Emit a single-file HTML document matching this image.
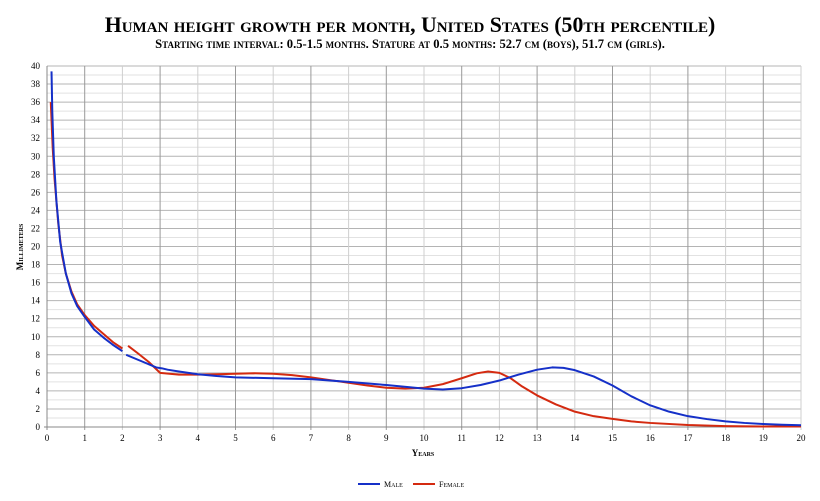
<!DOCTYPE html>
<html><head><meta charset="utf-8"><style>
body{margin:0;background:#fff;}
svg{display:block;font-family:"Liberation Serif",serif;}
</style></head><body>
<svg width="820" height="501" viewBox="0 0 820 501">
<rect width="820" height="501" fill="#fff"/>
<text x="410" y="32" text-anchor="middle" font-size="21.8" font-weight="bold" style="font-variant:small-caps">Human height growth per month, United States (50th percentile)</text>
<text x="410" y="48" text-anchor="middle" font-size="12.6" font-weight="bold" style="font-variant:small-caps">Starting time interval: 0.5-1.5 months. Stature at 0.5 months: 52.7 cm (boys), 51.7 cm (girls).</text>
<g id="grid"></g>
<g transform="translate(47,427) scale(37.7,-9.025)" fill="none" stroke-width="2" stroke-linejoin="round">
<polyline vector-effect="non-scaling-stroke" stroke="#d42a10" points="0.1,36 0.15,31 0.2,27.5 0.3,22.5 0.4,19 0.5,17 0.65,15 0.8,13.6 1,12.4 1.25,11.2 1.5,10.3 1.75,9.4 2,8.7"/>
<polyline vector-effect="non-scaling-stroke" stroke="#d42a10" points="2.15,9 2.4,8.2 2.7,7.2 3,6 3.5,5.8 4,5.8 4.5,5.85 5,5.9 5.5,5.95 6,5.9 6.5,5.75 7,5.5 7.5,5.2 8,4.9 8.5,4.6 9,4.35 9.5,4.25 10,4.35 10.5,4.75 11,5.4 11.4,5.95 11.7,6.15 12,6 12.3,5.4 12.6,4.5 13,3.5 13.5,2.5 14,1.7 14.5,1.2 15,0.9 15.5,0.62 16,0.45 17,0.22 18,0.1 19,0.06 20,0.05"/>
<polyline vector-effect="non-scaling-stroke" stroke="#1530c8" points="0.12,39.4 0.14,35 0.18,30 0.25,25 0.35,20.5 0.5,17 0.65,14.8 0.8,13.4 1,12.2 1.25,10.8 1.5,9.9 1.75,9.1 2,8.4"/>
<polyline vector-effect="non-scaling-stroke" stroke="#1530c8" points="2.1,8 2.5,7.3 2.9,6.6 3.05,6.5 3.2,6.35 3.5,6.15 4,5.85 4.5,5.65 5,5.5 6,5.4 7,5.3 8,5.0 9,4.65 10,4.25 10.5,4.15 11,4.3 11.5,4.65 12,5.15 12.5,5.8 13,6.35 13.4,6.6 13.7,6.55 14,6.3 14.5,5.6 15,4.6 15.5,3.4 16,2.4 16.5,1.7 17,1.2 17.5,0.88 18,0.62 18.5,0.45 19,0.33 19.5,0.25 20,0.2"/>
</g>
<g font-size="9" text-anchor="end" id="yl"></g>
<g font-size="9" text-anchor="middle" id="xl"></g>
<text x="423" y="456" text-anchor="middle" font-size="9" font-weight="bold" style="font-variant:small-caps">Years</text>
<text transform="translate(23,247) rotate(-90)" text-anchor="middle" font-size="9" font-weight="bold" style="font-variant:small-caps">Millimeters</text>
<line x1="358" y1="484" x2="380" y2="484" stroke="#1530c8" stroke-width="2"/>
<text x="384" y="487" font-size="8" style="font-variant:small-caps">Male</text>
<line x1="413" y1="484" x2="435" y2="484" stroke="#d42a10" stroke-width="2"/>
<text x="439" y="487" font-size="8" style="font-variant:small-caps">Female</text>
</svg>
<script>
var ns="http://www.w3.org/2000/svg",g=document.getElementById("grid"),yl=document.getElementById("yl"),xl=document.getElementById("xl");
function el(p,t,a){var e=document.createElementNS(ns,t);for(var k in a)e.setAttribute(k,a[k]);p.appendChild(e);return e;}
for(var v=0;v<=40;v++){var y=427-9.025*v;el(g,"line",{x1:47,x2:801,y1:y,y2:y,stroke:v%2?"#e2e2e2":"#b4b4b4","stroke-width":1});
 if(v%2==0){var t=el(yl,"text",{x:40,y:y+3});t.textContent=v;}}
for(var i=0;i<=20;i++){var x=47+37.7*i;el(g,"line",{x1:x,x2:x,y1:66,y2:430,stroke:i%2?"#9a9a9a":"#cfcfcf","stroke-width":1});
 var t=el(xl,"text",{x:x,y:441});t.textContent=i;}
el(g,"line",{x1:47,x2:47,y1:66,y2:430,stroke:"#888"});
el(g,"line",{x1:44,x2:801,y1:427,y2:427,stroke:"#888"});
</script>
</body></html>
